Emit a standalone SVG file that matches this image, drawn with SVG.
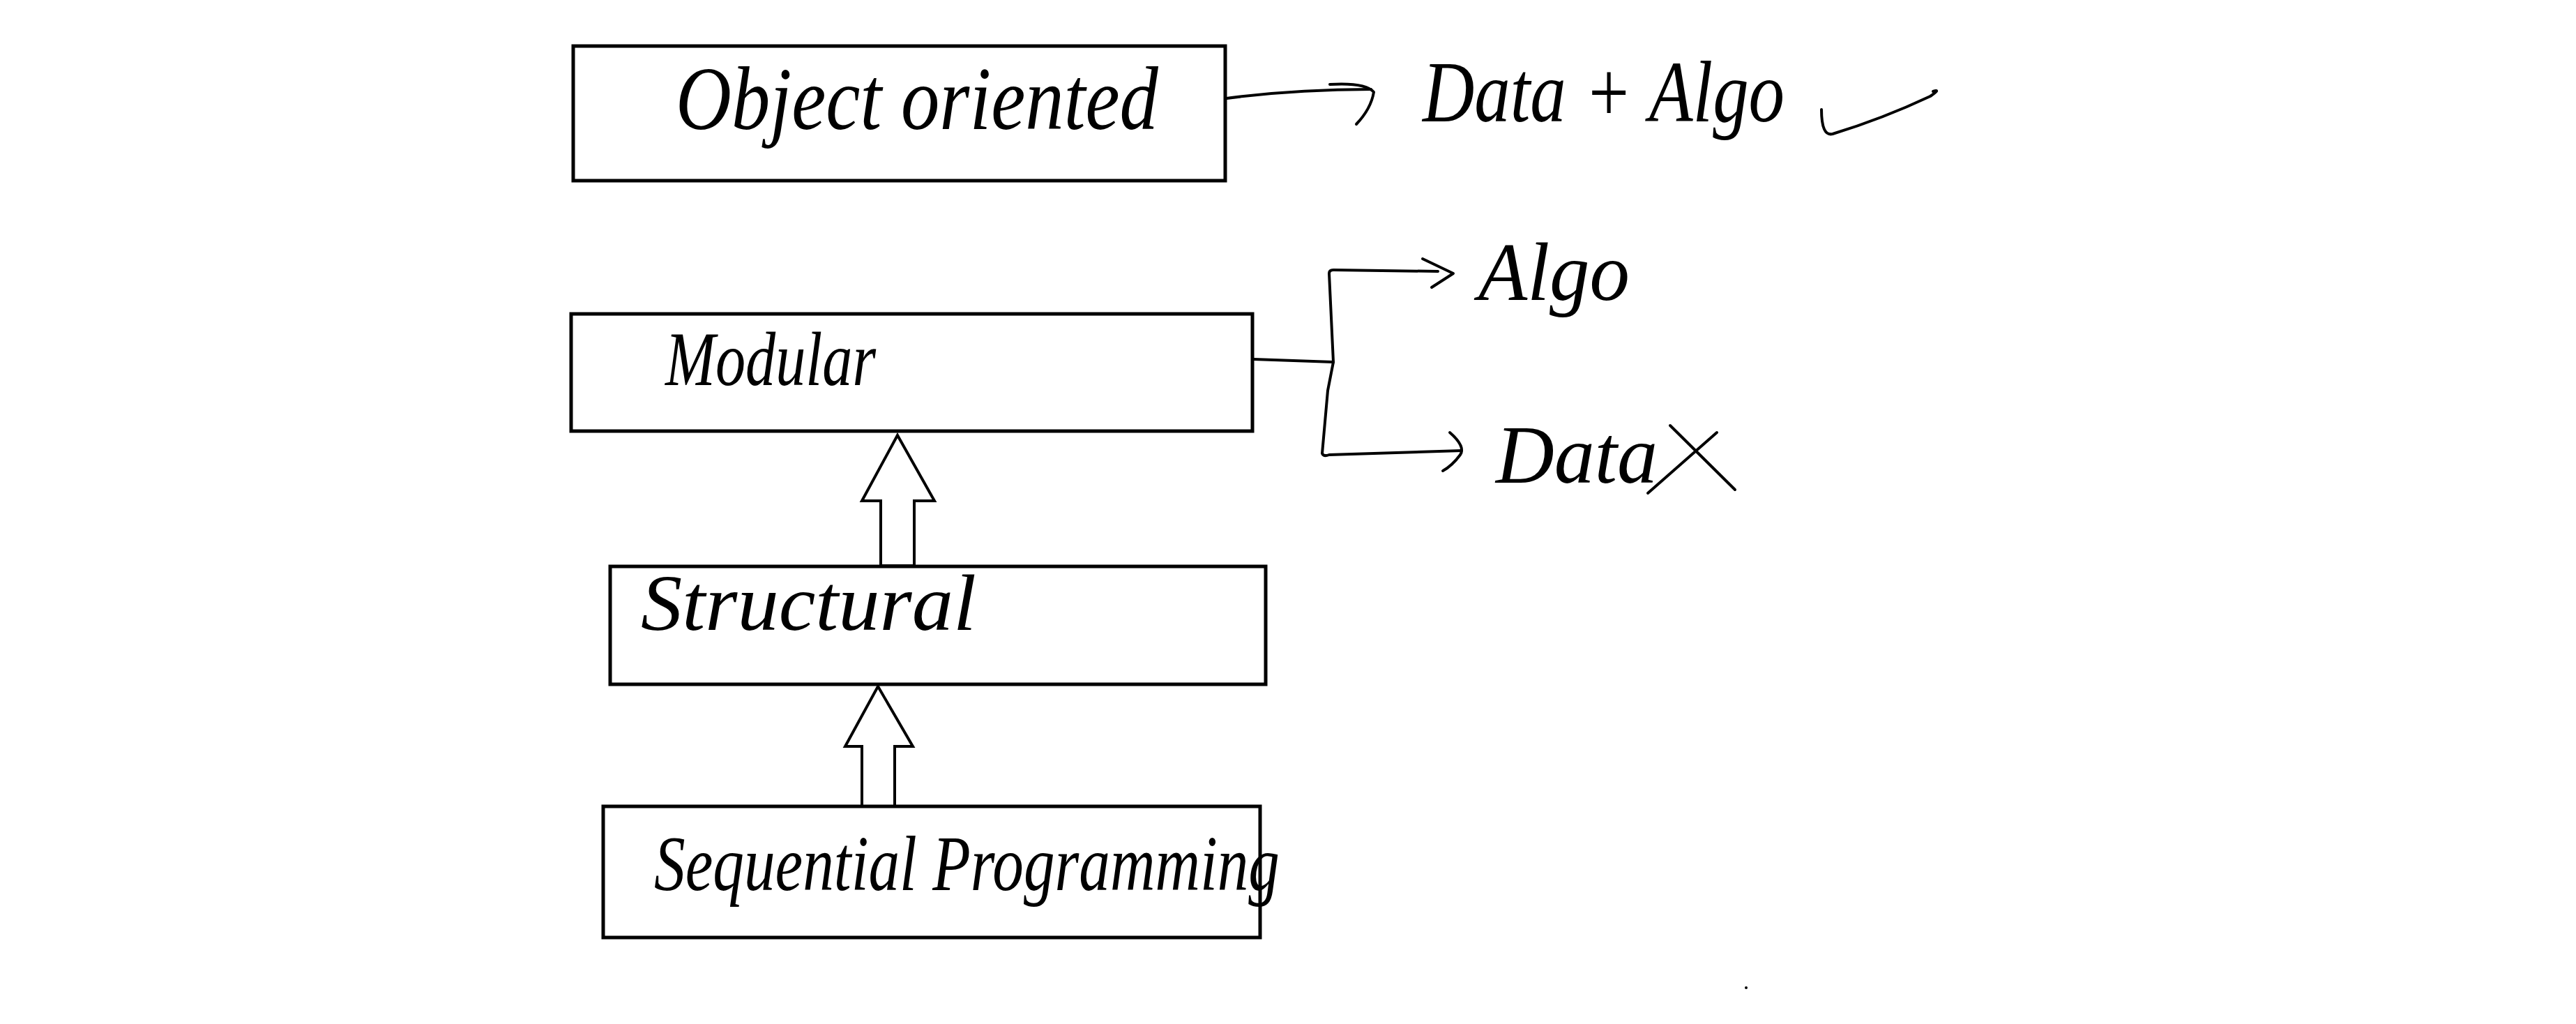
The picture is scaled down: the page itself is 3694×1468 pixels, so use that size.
<svg xmlns="http://www.w3.org/2000/svg" width="3694" height="1468" viewBox="0 0 3694 1468">
<style>
.box{fill:#fff;stroke:#000;stroke-width:5}
.hw{font-family:"Liberation Serif","DejaVu Serif",serif;font-style:italic;fill:#000}
.ln{fill:none;stroke:#000;stroke-width:4;stroke-linecap:round;stroke-linejoin:round}
.hollow{fill:#fff;stroke:#000;stroke-width:4;stroke-linejoin:miter}
</style>
<rect width="3694" height="1468" fill="#fff"/>
<g id="connectors">
<path class="ln" d="M1744,143 Q1850,128 1966,128"/>
<path class="ln" d="M1907,121 Q1958,118 1970,132 Q1966,156 1945,178"/>
<path class="ln" d="M1798,515 L1912,519"/>
<path class="ln" d="M1912,519 L1906,392 Q1906,387 1912,387 L2062,389"/>
<path class="ln" d="M2040,371 L2084,392 L2053,412"/>
<path class="ln" d="M1912,519 L1904,560 L1896,650 Q1898,655 1906,652 L2096,646"/>
<path class="ln" d="M2079,620 Q2102,640 2094,652 Q2082,668 2069,675"/>
<polygon class="hollow" points="1287,624 1340,718 1311,718 1311,811 1263,811 1263,718 1236,718"/>
<polygon class="hollow" points="1259,984 1309,1070 1283,1070 1283,1156 1236,1156 1236,1070 1212,1070"/>
</g>
<g id="node-object-oriented">
<rect class="box" x="822" y="66" width="935" height="193"/>
<text class="hw" x="969" y="185" font-size="130" textLength="692" lengthAdjust="spacingAndGlyphs">Object oriented</text>
</g>
<g id="node-data-algo">
<text class="hw" x="2040" y="174" font-size="125" textLength="519" lengthAdjust="spacingAndGlyphs">Data + Algo</text>
<path class="ln" d="M2612,157 Q2612,196 2628,192 Q2700,170 2768,138 Q2784,127 2772,131"/>
</g>
<g id="node-modular">
<rect class="box" x="819" y="450" width="977" height="168"/>
<text class="hw" x="954" y="552" font-size="110" textLength="302" lengthAdjust="spacingAndGlyphs">Modular</text>
</g>
<g id="node-algo">
<text class="hw" x="2120" y="430" font-size="118" textLength="217" lengthAdjust="spacingAndGlyphs">Algo</text>
</g>
<g id="node-data">
<text class="hw" x="2145" y="692" font-size="118" textLength="232" lengthAdjust="spacingAndGlyphs">Data</text>
<path class="ln" d="M2395,610 L2488,702 M2462,620 L2363,707"/>
</g>
<g id="node-structural">
<rect class="box" x="875" y="812" width="940" height="169"/>
<text class="hw" x="919" y="903" font-size="115" textLength="481" lengthAdjust="spacingAndGlyphs">Structural</text>
</g>
<g id="node-sequential">
<rect class="box" x="865" y="1156" width="942" height="188"/>
<text class="hw" x="938" y="1276" font-size="112" textLength="897" lengthAdjust="spacingAndGlyphs">Sequential Programming</text>
</g>
<circle cx="2504" cy="1416" r="2" fill="#000"/>
</svg>
